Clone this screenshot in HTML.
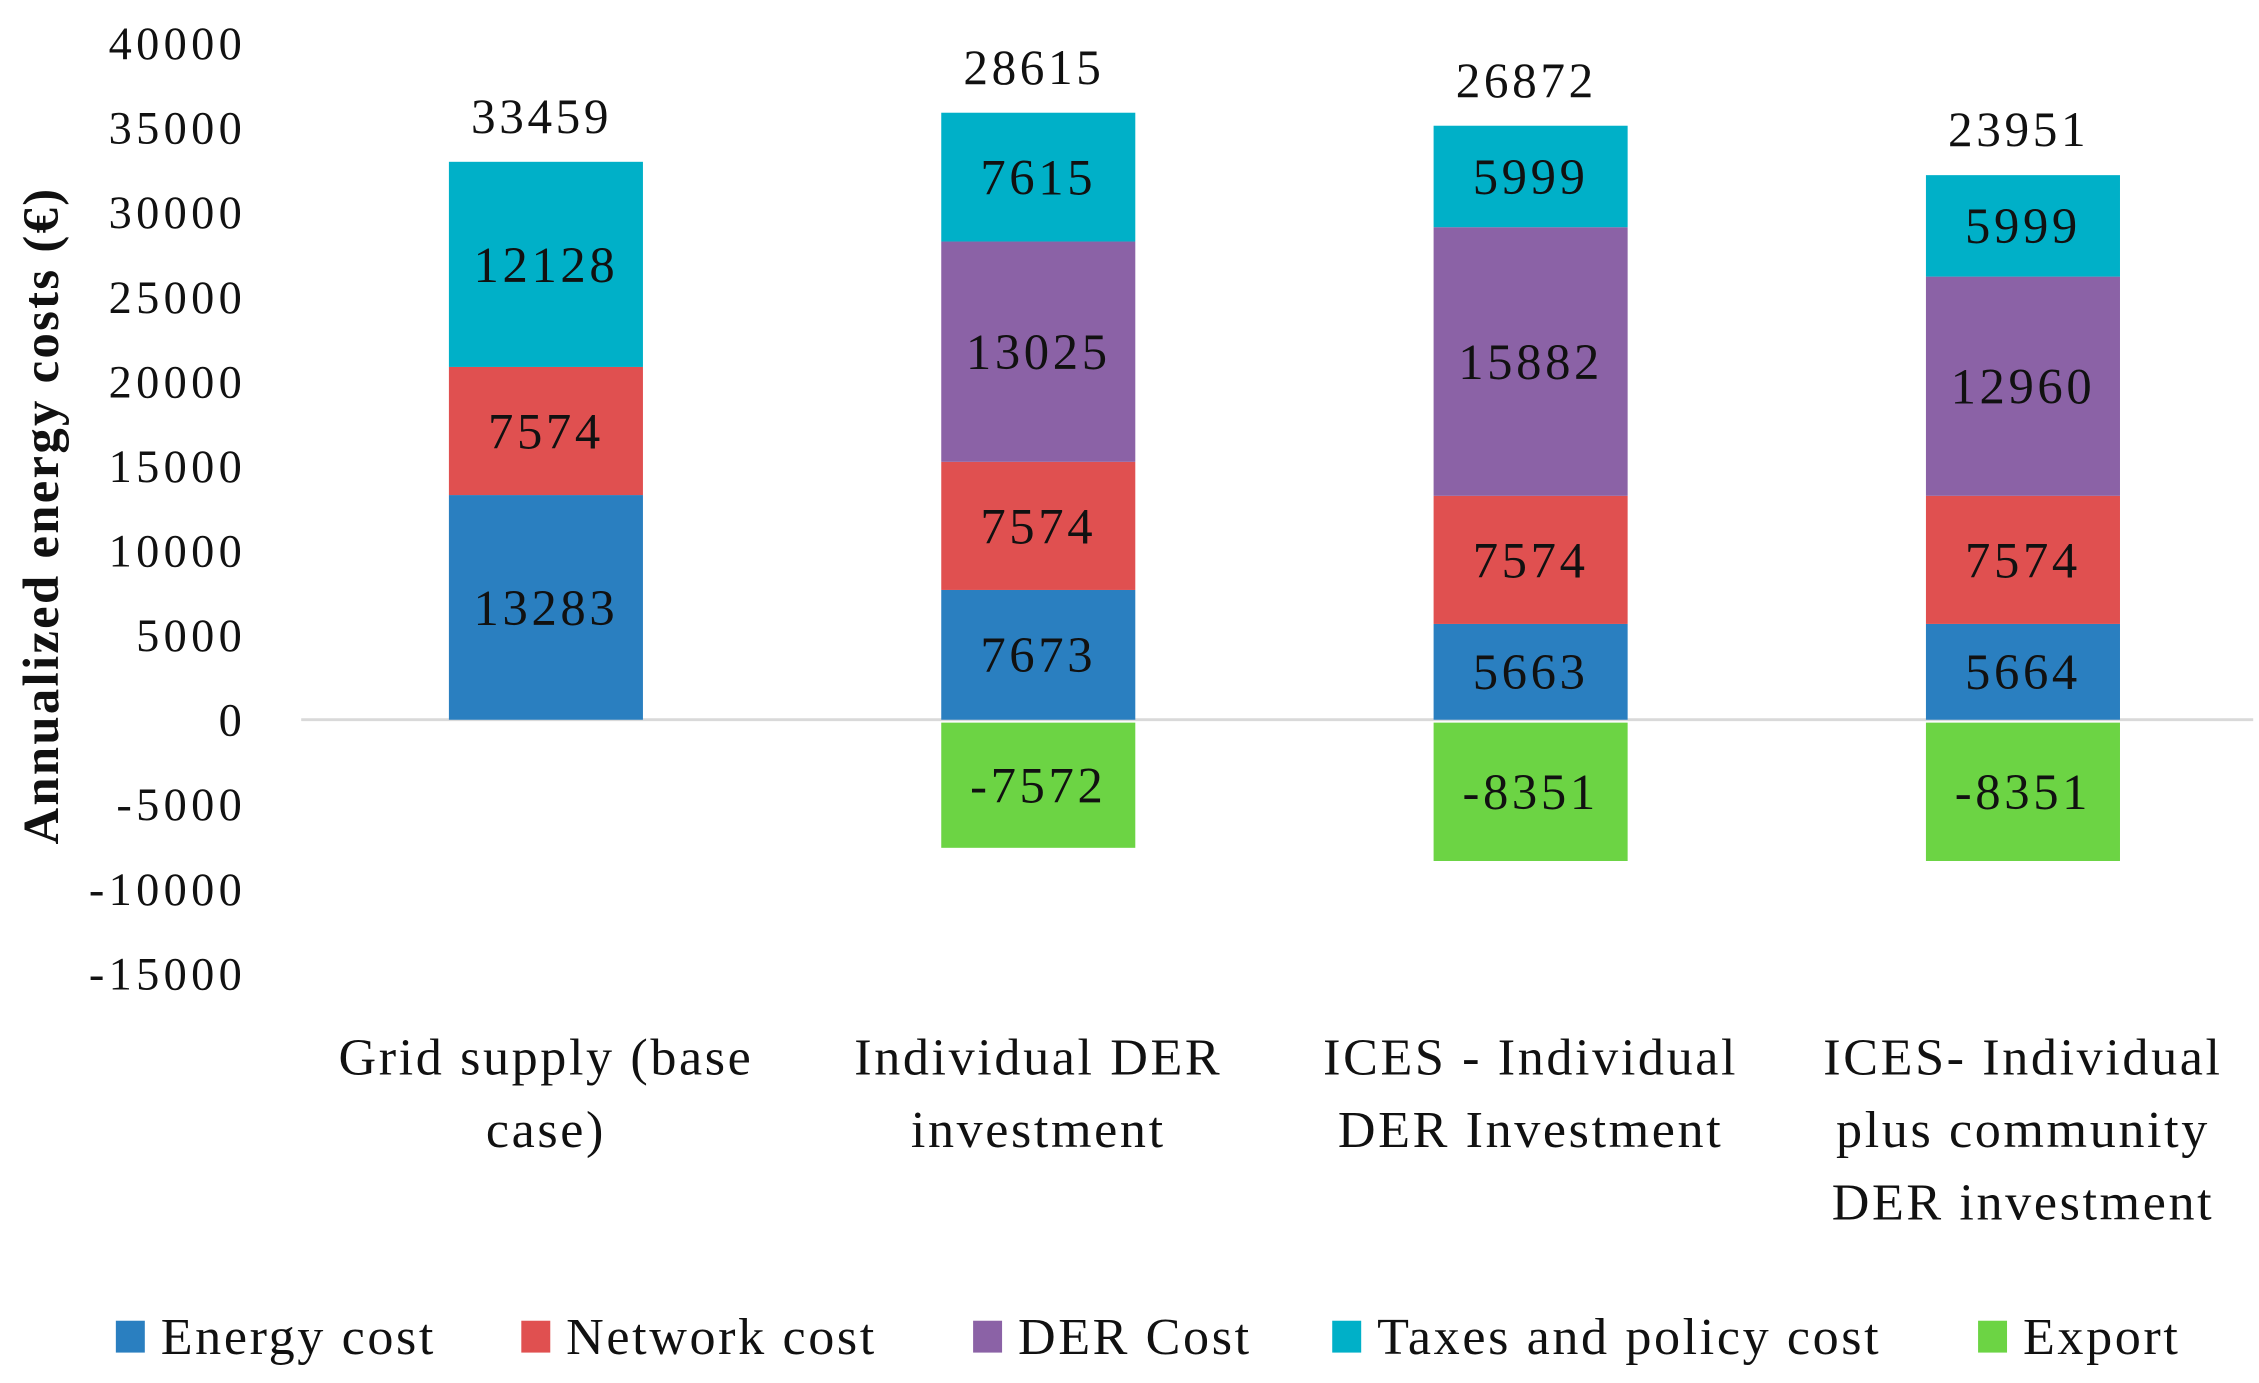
<!DOCTYPE html>
<html><head><meta charset="utf-8">
<style>
html,body{margin:0;padding:0;background:#fff;}
svg{display:block;}
text{font-family:"Liberation Serif",serif;fill:#111;}
</style></head>
<body>
<svg id="chart" width="2259" height="1383" viewBox="0 0 1560 955" preserveAspectRatio="none" xmlns="http://www.w3.org/2000/svg"></svg>
<script>
const categories = [["Grid supply (base","case)"],["Individual DER","investment"],["ICES - Individual","DER Investment"],["ICES- Individual","plus community","DER investment"]];
const seriesNames = ["Energy cost","Network cost","DER Cost","Taxes and policy cost","Export"];
const energyCost = [13283, 7673, 5663, 5664];
const networkCost = [7574, 7574, 7574, 7574];
const derCost = [0, 13025, 15882, 12960];
const taxesCost = [12128, 7615, 5999, 5999];
const exportVals = [0, -7572, -8351, -8351];
const totals = [33459, 28615, 26872, 23951];
const yTicks = [40000,35000,30000,25000,20000,15000,10000,5000,0,-5000,-10000,-15000];
const colors = ["#2a7fc0","#e05050","#8b62a6","#00b0c8","#6cd444"];

const NS = "http://www.w3.org/2000/svg";
const svg = document.getElementById('chart');
const y0 = 497, pxPer = 58.4/5000;
function yScale(v){ return y0 - v*pxPer; }
function xCenter(i){ return 377 + i*340; }
const barW = 134;
function mk(tag, attrs, parent){ const e=document.createElementNS(NS,tag); for(const k in attrs) e.setAttribute(k,attrs[k]); (parent||svg).appendChild(e); return e; }

yTicks.forEach(t=>{
  const e = mk('text',{x:170,y:yScale(t)+11,'text-anchor':'end','font-size':32,'letter-spacing':3});
  e.textContent = t;
  
  
});
const at = mk('text',{x:0,y:0,'text-anchor':'middle','font-size':35,'font-weight':'bold','letter-spacing':1.6,transform:'translate(40,356) rotate(-90)'});
at.textContent = "Annualized energy costs (€)";


const zl = mk('line',{x1:208,x2:1556,y1:y0,y2:y0,stroke:'#d9d9d9','stroke-width':2});



const stacks = [energyCost, networkCost, derCost, taxesCost];
categories.forEach((cat,i)=>{
  const cx = xCenter(i);
  let base = 0;
  stacks.forEach((arr,s)=>{
    const v = arr[i];
    if(!v) return;
    const top = yScale(base+v), bot = yScale(base);
    const r = mk('rect',{x:cx-barW/2,y:top,width:barW,height:bot-top,fill:colors[s]});
    
    
    const t = mk('text',{x:cx,y:(top+bot)/2+12,'text-anchor':'middle','font-size':35,'letter-spacing':2.5});
    t.textContent = v;
    
    
    base += v;
  });
  const ev = exportVals[i];
  if(ev){
    const top = yScale(0)+2, bot = yScale(ev);
    const r = mk('rect',{x:cx-barW/2,y:top,width:barW,height:bot-top,fill:colors[4]});
    
    
    const t = mk('text',{x:cx,y:(top+bot)/2+12,'text-anchor':'middle','font-size':35,'letter-spacing':2.5});
    t.textContent = ev;
    
    
  }
  const tt = mk('text',{x:cx-3,y:yScale(base)-20,'text-anchor':'middle','font-size':34,'letter-spacing':2.5});
  tt.textContent = totals[i];
  
  
  cat.forEach((line,k)=>{
    const c = mk('text',{x:cx,y:742+k*50,'text-anchor':'middle','font-size':36,'letter-spacing':1.8});
    c.textContent = line;
    
    
  });
});

const legendX = [80, 360, 672, 920, 1366];
seriesNames.forEach((n,i)=>{
  const g = mk('g',{});
  
  
  mk('rect',{x:legendX[i],y:912,width:20,height:22,fill:colors[i]},g);
  const t = mk('text',{x:legendX[i]+31,y:935,'font-size':36,'letter-spacing':1.8},g);
  t.textContent = n;
});
</script>
</body></html>
